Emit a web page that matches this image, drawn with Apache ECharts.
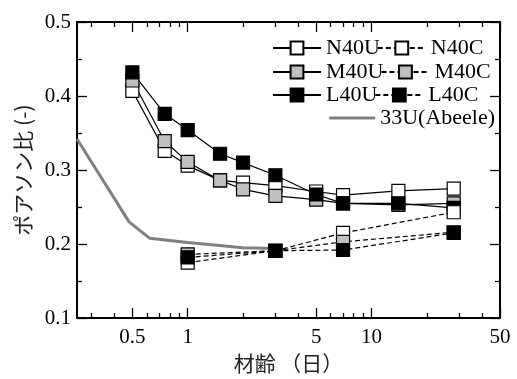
<!DOCTYPE html>
<html>
<head>
<meta charset="utf-8">
<script src="https://cdn.jsdelivr.net/npm/echarts@6/dist/echarts.min.js"></script>
<style>
  html, body { margin: 0; padding: 0; background: #fff; }
  #chart { width: 517px; height: 379px; }
</style>
</head>
<body>
<div id="chart"></div>
<script>
// Age in days at which each specimen group was tested
const agesU = [0.5, 0.75, 1, 1.5, 2, 3, 5, 7, 14, 28];
const agesC = [1, 3, 7, 28];

// Poisson's ratio, unconstrained (U) specimens
const n40u = [0.407, 0.326, 0.306, 0.286, 0.283, 0.279, 0.271, 0.266, 0.272, 0.275];
const m40u = [0.421, 0.339, 0.311, 0.286, 0.274, 0.265, 0.260, 0.255, 0.253, 0.255];
const l40u = [0.432, 0.376, 0.354, 0.322, 0.310, 0.293, 0.267, 0.255, 0.255, 0.249];

// Poisson's ratio, constrained (C) specimens
const n40c = [0.175, 0.191, 0.215, 0.243];
const m40c = [0.186, 0.191, 0.203, 0.216];
const l40c = [0.182, 0.191, 0.192, 0.215];

// Reference curve 33U (Abeele)
const abeeleAge = [0.25, 0.48, 0.62, 1, 2, 3];
const abeeleVal = [0.342, 0.230, 0.208, 0.202, 0.195, 0.194];

// Axis ticks
const xMajor = [0.5, 1, 5, 10, 50];
const xMinor = [0.3, 0.4, 0.6, 0.7, 0.8, 0.9, 2, 3, 4, 6, 7, 8, 9, 20, 30, 40];
const xLabels = ['0.5', '1', '5', '10', '50'];

const pairs = (xs, ys) => xs.map((x, i) => [x, ys[i]]);

const serif = '"Liberation Serif", "Times New Roman", serif';
const jp = '"Noto Sans CJK JP", sans-serif';

function xAxisDef(pos, ticks, len, showLine, showLabel, withName) {
  const ax = {
    type: 'log', logBase: 10, min: 0.25, max: 50, position: pos,
    axisLine: { show: showLine, onZero: false, lineStyle: { color: '#000', width: 2 } },
    axisTick: { show: true, inside: true, length: len, customValues: ticks,
                lineStyle: { color: '#000', width: 1.3 } },
    axisLabel: { show: showLabel, customValues: xMajor, margin: 9,
                 color: '#000', fontFamily: serif, fontSize: 21,
                 formatter: v => {
                   const i = xMajor.findIndex(m => Math.abs(m - v) < 1e-6 * m);
                   return i >= 0 ? xLabels[i] : '';
                 } },
    splitLine: { show: false }, minorTick: { show: false }, minorSplitLine: { show: false }
  };
  if (withName) {
    Object.assign(ax, {
      name: '材齢 （日）', nameLocation: 'middle', nameGap: 30,
      nameTextStyle: { color: '#222', fontFamily: jp, fontSize: 21 }
    });
  }
  return ax;
}

function yAxisDef(pos, showLabel, withName) {
  const ax = {
    type: 'value', min: 0.1, max: 0.5, interval: 0.1, position: pos,
    axisLine: { show: true, onZero: false, lineStyle: { color: '#000', width: 2 } },
    axisTick: { show: true, inside: true, length: 10, lineStyle: { color: '#000', width: 1.3 } },
    minorTick: { show: true, splitNumber: 2, length: 5, lineStyle: { color: '#000', width: 1.3 } },
    axisLabel: { show: showLabel, margin: 6, color: '#000', fontFamily: serif, fontSize: 21,
                 formatter: v => v.toFixed(1) },
    splitLine: { show: false }
  };
  if (withName) {
    Object.assign(ax, {
      name: 'ポアソン比 (-)', nameLocation: 'middle', nameGap: 43, nameRotate: 90,
      nameTextStyle: { color: '#222', fontFamily: jp, fontSize: 21 }
    });
  }
  return ax;
}

const markerStyle = fill => ({ color: fill, borderColor: '#000', borderWidth: 1.2, opacity: 1 });

function testSeries(name, xs, ys, fill, dashed) {
  return {
    name, type: 'line', data: pairs(xs, ys),
    xAxisIndex: 0, yAxisIndex: 0,
    symbol: 'rect', symbolSize: 13, showSymbol: true,
    lineStyle: { color: '#000', width: 1.2, type: dashed ? [5, 3] : 'solid' },
    itemStyle: markerStyle(fill),
    emphasis: { disabled: true }, animation: false, z: 3
  };
}

const WHITE = '#ffffff', GRAY = '#c0c0c0', BLACK = '#000000';

const legendText = { color: '#000', fontFamily: serif, fontSize: 22 };
function legendRow(names, left, top, width) {
  return {
    data: names, left, top, orient: 'horizontal', padding: 0,
    itemWidth: width, itemHeight: 16, itemGap: -3,
    textStyle: legendText, selectedMode: false
  };
}

const option = {
  backgroundColor: '#fff',
  animation: false,
  textStyle: { fontFamily: serif },
  grid: { left: 77, right: 17, top: 22, bottom: 54, containLabel: false },
  xAxis: [
    xAxisDef('bottom', xMajor, 10, true, true, true),
    xAxisDef('bottom', xMinor, 5, false, false, false),
    xAxisDef('top', xMajor, 10, true, false, false),
    xAxisDef('top', xMinor, 5, false, false, false)
  ],
  yAxis: [
    yAxisDef('left', true, true),
    yAxisDef('right', false, false)
  ],
  legend: [
    legendRow(['N40U', 'N40C'], 272, 37, 48),
    legendRow(['M40U', 'M40C'], 272, 61, 48),
    legendRow(['L40U', 'L40C'], 272, 84, 48),
    {
      data: ['33U(Abeele)'], right: 22, top: 107, padding: 0,
      itemWidth: 46, itemHeight: 16, textStyle: legendText, selectedMode: false,
      itemStyle: { opacity: 0 }, lineStyle: { color: '#808080', width: 3, opacity: 1 }
    }
  ],
  series: [
    {
      name: '33U(Abeele)', type: 'line', data: pairs(abeeleAge, abeeleVal),
      xAxisIndex: 0, yAxisIndex: 0, showSymbol: false, symbol: 'none',
      lineStyle: { color: '#808080', width: 3 }, itemStyle: { color: '#808080' },
      emphasis: { disabled: true }, z: 2
    },
    testSeries('N40U', agesU, n40u, WHITE, false),
    testSeries('M40U', agesU, m40u, GRAY, false),
    testSeries('L40U', agesU, l40u, BLACK, false),
    testSeries('N40C', agesC, n40c, WHITE, true),
    testSeries('M40C', agesC, m40c, GRAY, true),
    testSeries('L40C', agesC, l40c, BLACK, true)
  ]
};

const chart = echarts.init(document.getElementById('chart'), null, { renderer: 'canvas' });
chart.setOption(option);
</script>
</body>
</html>
